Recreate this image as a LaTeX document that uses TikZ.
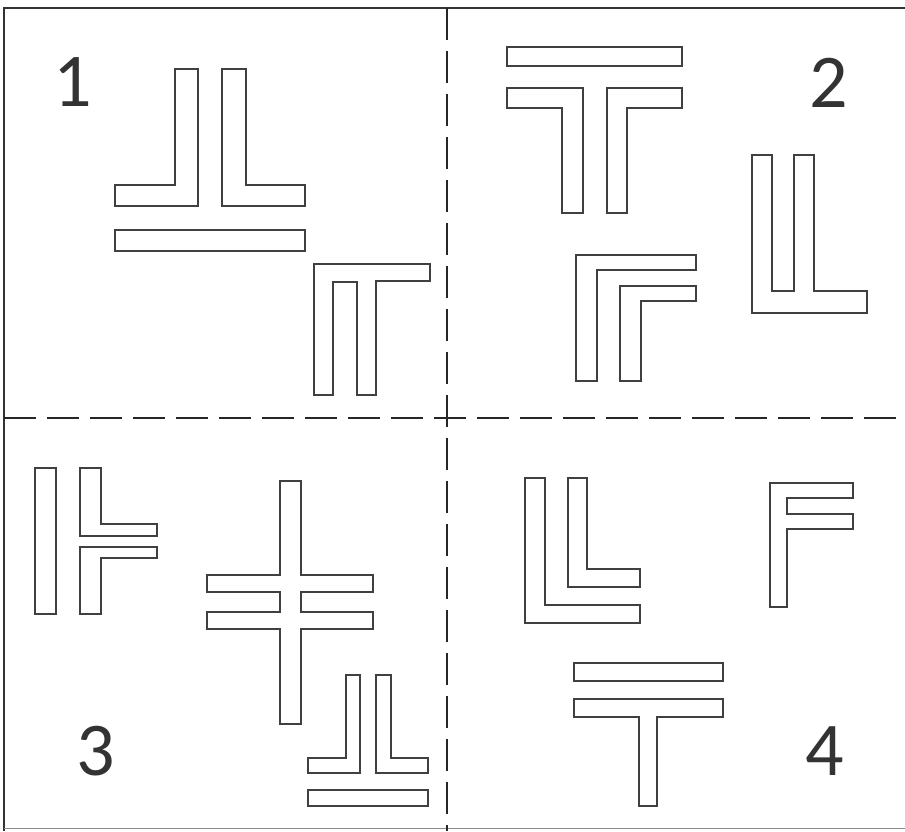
\documentclass[tikz,border=0pt]{standalone}
\usepackage{fontspec}
\setmainfont{Carlito}
\begin{document}
\begin{tikzpicture}[x=1pt,y=-1pt,
  piece/.style={draw=black!75,line width=1.4pt,line join=miter,fill=white},
  frameline/.style={draw=black!80,line width=2.4pt},
  divider/.style={draw=black!85,line width=2.5pt,dash pattern=on 32pt off 11pt},
  numlabel/.style={font=\fontsize{76}{76}\selectfont,text=black!80,inner sep=0pt}]
\useasboundingbox (0,0) rectangle (905,831);
\fill[white] (0,0) rectangle (905,831);
% frame
\draw[frameline] (4,831) -- (4,8) -- (905,8);
\draw[draw=black!45,line width=1pt] (4,828) -- (905,828);
% dividers
\draw[divider] (447,8) -- (447,831);
\draw[divider] (4,418) -- (905,418);
% labels
\node[numlabel] (n1) at (73,82) {1};
\node[numlabel] (n2) at (829,83) {2};
\node[numlabel] (n3) at (96,751) {3};
\node[numlabel] (n4) at (825,751) {4};
% ---------- panel 1
\draw[piece] (175,69) -- (198,69) -- (198,206) -- (115,206) -- (115,185) -- (175,185) -- cycle;
\draw[piece] (222,69) -- (246,69) -- (246,185) -- (305,185) -- (305,206) -- (222,206) -- cycle;
\draw[piece] (115,230) rectangle (305,251);
\draw[piece] (314,264) -- (430,264) -- (430,281) -- (376,281) -- (376,395) -- (357,395) -- (357,282) -- (333,282) -- (333,395) -- (314,395) -- cycle;
% ---------- panel 2
\draw[piece] (507,47) rectangle (682,66);
\draw[piece] (507,88) -- (583,88) -- (583,213) -- (562,213) -- (562,108) -- (507,108) -- cycle;
\draw[piece] (607,88) -- (682,88) -- (682,108) -- (627,108) -- (627,213) -- (607,213) -- cycle;
\draw[piece] (576,255) -- (696,255) -- (696,270) -- (597,270) -- (597,381) -- (576,381) -- cycle;
\draw[piece] (620,286) -- (696,286) -- (696,301) -- (641,301) -- (641,381) -- (620,381) -- cycle;
\draw[piece] (752,155) -- (772,155) -- (772,291) -- (794,291) -- (794,155) -- (814,155) -- (814,291) -- (867,291) -- (867,313) -- (752,313) -- cycle;
% ---------- panel 3
\draw[piece] (35,468) rectangle (56,614);
\draw[piece] (80,468) -- (101,468) -- (101,524) -- (157,524) -- (157,536) -- (80,536) -- cycle;
\draw[piece] (80,547) -- (157,547) -- (157,558) -- (101,558) -- (101,614) -- (80,614) -- cycle;
\draw[piece] (280,481) -- (301,481) -- (301,575) -- (373,575) -- (373,592) -- (301,592) -- (301,612) -- (373,612) -- (373,629) -- (301,629) -- (301,724) -- (280,724) -- (280,629) -- (207,629) -- (207,612) -- (280,612) -- (280,592) -- (207,592) -- (207,575) -- (280,575) -- cycle;
\draw[piece] (346,675) -- (360,675) -- (360,773) -- (308,773) -- (308,758) -- (346,758) -- cycle;
\draw[piece] (376,675) -- (391,675) -- (391,758) -- (428,758) -- (428,773) -- (376,773) -- cycle;
\draw[piece] (308,790) rectangle (428,806);
% ---------- panel 4
\draw[piece] (525,478) -- (545,478) -- (545,605) -- (640,605) -- (640,623) -- (525,623) -- cycle;
\draw[piece] (568,478) -- (587,478) -- (587,569) -- (640,569) -- (640,587) -- (568,587) -- cycle;
\draw[piece] (770,483) -- (853,483) -- (853,498) -- (787,498) -- (787,514) -- (853,514) -- (853,529) -- (787,529) -- (787,607) -- (770,607) -- cycle;
\draw[piece] (574,663) rectangle (723,681);
\draw[piece] (574,699) -- (723,699) -- (723,717) -- (657,717) -- (657,806) -- (639,806) -- (639,717) -- (574,717) -- cycle;
\end{tikzpicture}
\end{document}
